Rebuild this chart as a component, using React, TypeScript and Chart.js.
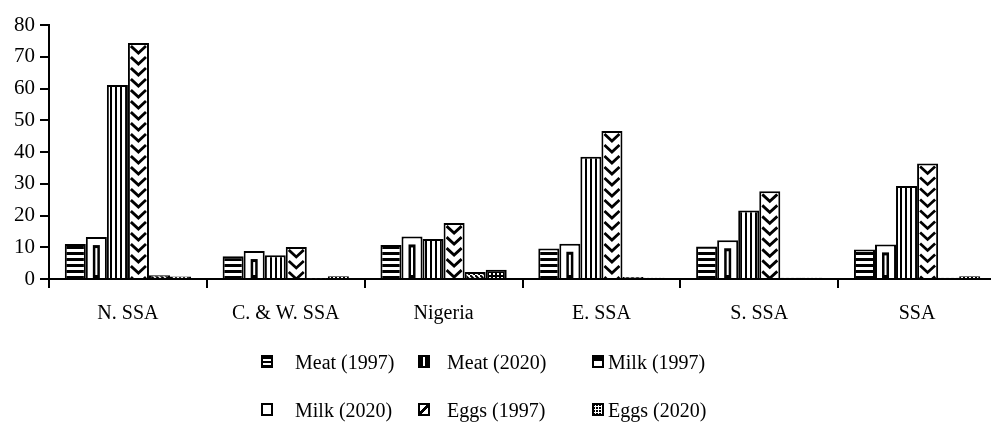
import React, { useEffect, useRef } from "react";
import { Chart, registerables } from "chart.js";

Chart.register(...registerables);

const categories = ["N. SSA", "C. & W. SSA", "Nigeria", "E. SSA", "S. SSA", "SSA"];
const seriesNames = ["Meat (1997)", "Meat (2020)", "Milk (1997)", "Milk (2020)", "Eggs (1997)", "Eggs (2020)"];
const meat1997 = [11, 7.2, 10.7, 9.6, 10.2, 9.3];
const meat2020 = [13.2, 8.8, 13.4, 11.1, 12.2, 10.9];
const milk1997 = [61.1, 7.5, 12.6, 38.5, 21.6, 29.3];
const milk2020 = [74.3, 10.1, 17.6, 46.6, 27.6, 36.4];
const eggs1997 = [1.2, 0.2, 2.2, 0.6, 0.4, 0.4];
const eggs2020 = [0.8, 0.9, 2.9, 0.4, 0.4, 0.9];
const yMin = 0;
const yMax = 80;
const yStep = 10;

const FONT = "'Liberation Serif', 'Times New Roman', serif";

function makePattern(w: number, h: number, draw: (c: CanvasRenderingContext2D) => void) {
  const cv = document.createElement("canvas");
  cv.width = w;
  cv.height = h;
  const c = cv.getContext("2d")!;
  c.fillStyle = "#fff";
  c.fillRect(0, 0, w, h);
  draw(c);
  return c.createPattern(cv, "repeat")!;
}

const overlayPlugin = {
  id: "overlayMarks",
  afterDatasetsDraw(chart: any) {
    const ctx = chart.ctx as CanvasRenderingContext2D;
    // Milk (2020): chevrons
    chart.getDatasetMeta(3).data.forEach((el: any) => {
      const { x, y, base, width } = el.getProps(["x", "y", "base", "width"], true);
      const left = x - width / 2;
      const right = x + width / 2;
      ctx.save();
      ctx.beginPath();
      ctx.rect(left + 2, y + 2, width - 4, base - y - 2);
      ctx.clip();
      ctx.strokeStyle = "#000";
      ctx.lineWidth = 2.8;
      for (let yy = y + 3; yy < base; yy += 11) {
        ctx.beginPath();
        ctx.moveTo(left + 3, yy);
        ctx.lineTo(x, yy + 7);
        ctx.lineTo(right - 3, yy);
        ctx.stroke();
      }
      ctx.restore();
    });
    // Meat (2020): central mark
    chart.getDatasetMeta(1).data.forEach((el: any) => {
      const { x, y, base } = el.getProps(["x", "y", "base", "width"], true);
      const top = y + 8;
      if (base - top < 4) return;
      ctx.save();
      ctx.fillStyle = "#000";
      ctx.fillRect(x - 3.5, top, 7, base - top);
      ctx.fillStyle = "#fff";
      ctx.fillRect(x - 1, top + 3, 2, base - top - 6);
      ctx.restore();
    });
  },
};

function LegendIcon({ idx }: { idx: number }) {
  const base: React.CSSProperties = {
    display: "inline-block",
    width: 12,
    height: 13,
    boxSizing: "border-box",
    border: "2px solid #000",
    background: "#fff",
  };
  const styles: React.CSSProperties[] = [
    { background: "repeating-linear-gradient(to bottom, #000 0 2px, #fff 2px 4px)" },
    { background: "linear-gradient(to right, #000 0 3px, #fff 3px 5px, #000 5px)" },
    { background: "linear-gradient(to bottom, #000 0 45%, #fff 45%)" },
    { border: "2.5px solid #000" },
    { background: "linear-gradient(to bottom right, #fff 0 38%, #000 38% 62%, #fff 62%)" },
    { background: "radial-gradient(circle, #fff 0 1px, #000 1.2px) 0 0 / 3px 3px", backgroundColor: "#000" },
  ];
  return <span style={{ ...base, ...styles[idx] }} />;
}

const legendCols = [
  { icon: 261, text: 295 },
  { icon: 418, text: 447 },
  { icon: 592, text: 608 },
];
const legendRows = [362, 410];

export default function App() {
  const ref = useRef<HTMLCanvasElement>(null);

  useEffect(() => {
    const canvas = ref.current!;
    const hStripes = makePattern(6, 6, (c) => {
      c.fillStyle = "#000";
      c.fillRect(0, 0, 6, 3);
    });
    const vStripes = makePattern(5, 5, (c) => {
      c.fillStyle = "#000";
      c.fillRect(0, 0, 2, 5);
    });
    const diag = makePattern(5, 5, (c) => {
      c.strokeStyle = "#000";
      c.lineWidth = 2;
      c.beginPath();
      c.moveTo(0, 0);
      c.lineTo(5, 5);
      c.stroke();
    });
    const cross = makePattern(4, 4, (c) => {
      c.fillStyle = "#000";
      c.fillRect(0, 0, 4, 4);
      c.fillStyle = "#fff";
      c.fillRect(1, 1, 2, 2);
    });
    const fills: any[] = [hStripes, "#fff", vStripes, "#fff", diag, cross];
    const seriesData = [meat1997, meat2020, milk1997, milk2020, eggs1997, eggs2020];

    const chart = new Chart(canvas, {
      type: "bar",
      data: {
        labels: categories,
        datasets: seriesData.map((d, i) => ({
          label: seriesNames[i],
          data: d,
          backgroundColor: fills[i],
          borderColor: "#000",
          borderWidth: 2,
          categoryPercentage: 0.8,
          barPercentage: 1.0,
        })),
      },
      options: {
        responsive: false,
        animation: false,
        events: [],
        layout: { padding: { top: 25, right: 4, left: 0, bottom: 0 } },
        plugins: {
          legend: { display: false },
          tooltip: { enabled: false },
          title: { display: false },
        },
        scales: {
          x: {
            offset: true,
            afterFit: (s: any) => {
              s.height = 147;
            },
            grid: {
              offset: true,
              drawOnChartArea: false,
              drawTicks: true,
              tickLength: 9,
              color: "#000",
              lineWidth: 2,
            },
            border: { display: true, color: "#000", width: 2 },
            ticks: {
              color: "#000",
              padding: 14,
              maxRotation: 0,
              font: { family: FONT, size: 20 },
            },
          },
          y: {
            min: yMin,
            max: yMax,
            afterFit: (s: any) => {
              s.width = 49;
            },
            grid: {
              drawOnChartArea: false,
              drawTicks: true,
              tickLength: 9,
              color: "#000",
              lineWidth: 2,
            },
            border: { display: true, color: "#000", width: 2 },
            ticks: {
              stepSize: yStep,
              color: "#000",
              padding: 5,
              font: { family: FONT, size: 21 },
            },
          },
        },
      },
      plugins: [overlayPlugin],
    });
    return () => chart.destroy();
  }, []);

  return (
    <div
      style={{
        position: "absolute",
        left: 0,
        top: 0,
        width: 991,
        height: 426,
        overflow: "hidden",
        background: "#fff",
      }}
    >
      <canvas ref={ref} width={1000} height={426} style={{ display: "block" }} />
      {seriesNames.map((name, i) => {
        const col = legendCols[i % 3];
        const rowY = legendRows[Math.floor(i / 3)];
        return (
          <React.Fragment key={name}>
            <div style={{ position: "absolute", left: col.icon, top: rowY - 7, lineHeight: 0 }}>
              <LegendIcon idx={i} />
            </div>
            <div
              style={{
                position: "absolute",
                left: col.text,
                top: rowY - 12,
                height: 24,
                lineHeight: "24px",
                fontFamily: FONT,
                fontSize: 20,
                color: "#000",
                whiteSpace: "nowrap",
              }}
            >
              {name}
            </div>
          </React.Fragment>
        );
      })}
    </div>
  );
}
